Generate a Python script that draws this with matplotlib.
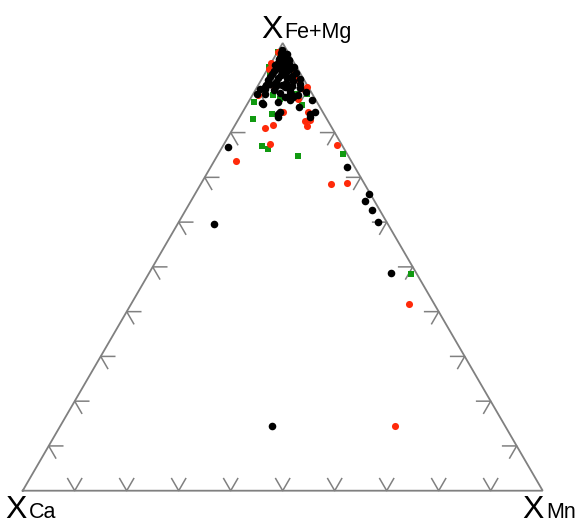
import numpy as np
import matplotlib.pyplot as plt

# ternary compositions (fractions): X Fe+Mg, X Ca, X Mn  (Mn = 1 - FeMg - Ca)
black_femg = [0.985, 0.978, 0.975, 0.970, 0.968, 0.964, 0.962, 0.958, 0.955, 0.953,
              0.950, 0.948, 0.946, 0.943, 0.941, 0.938, 0.936, 0.934, 0.931, 0.929,
              0.927, 0.925, 0.923, 0.921, 0.919, 0.917, 0.915, 0.913, 0.911, 0.909,
              0.907, 0.905, 0.903, 0.901, 0.899, 0.897, 0.895, 0.893, 0.891, 0.889,
              0.886, 0.884, 0.872, 0.868, 0.858,
              0.902, 0.906, 0.883, 0.909, 0.898, 0.887, 0.887, 0.879, 0.879, 0.872,
              0.867, 0.863, 0.846, 0.846, 0.842, 0.842, 0.835, 0.835,
              0.768, 0.722, 0.662, 0.647, 0.627, 0.600, 0.595, 0.487, 0.145]
black_ca = [0.008, 0.014, 0.005, 0.018, 0.010, 0.026, 0.006, 0.020, 0.032, 0.012,
            0.040, 0.024, 0.006, 0.034, 0.015, 0.048, 0.026, 0.008, 0.056, 0.038,
            0.018, 0.062, 0.030, 0.048, 0.008, 0.070, 0.022, 0.056, 0.038, 0.012,
            0.078, 0.030, 0.062, 0.046, 0.018, 0.085, 0.070, 0.040, 0.010, 0.060,
            0.092, 0.028, 0.050, 0.075, 0.040,
            0.083, 0.049, 0.041, 0.070, 0.095, 0.106, 0.0425, 0.056, 0.040, 0.008,
            0.107, 0.106, 0.015, 0.082, 0.088, 0.026, 0.091, 0.030,
            0.221, 0.016, 0.004, 0.018, 0.015, 0.016, 0.335, 0.049, 0.449]
black_mn = [1 - f - c for f, c in zip(black_femg, black_ca)]

red_femg = [0.980, 0.955, 0.943, 0.943, 0.9205, 0.9056, 0.902, 0.898, 0.883, 0.876,
            0.846, 0.846, 0.827, 0.825, 0.816, 0.815, 0.810, 0.775, 0.772, 0.737,
            0.6875, 0.685, 0.418, 0.145]
red_ca = [0.020, 0.045, 0.054, 0.008, 0.016, 0.065, 0.003, 0.011, 0.106, 0.033,
          0.076, 0.028, 0.034, 0.045, 0.111, 0.046, 0.129, 0.136, 0.010, 0.222,
          0.033, 0.065, 0.048, 0.212]
red_mn = [1 - f - c for f, c in zip(red_femg, red_ca)]

green_femg = [0.980, 0.976, 0.965, 0.946, 0.946, 0.932, 0.928, 0.887, 0.887, 0.883,
              0.876, 0.868, 0.861, 0.842, 0.830, 0.770, 0.764, 0.7516, 0.748, 0.484]
green_ca = [0.020, 0.017, 0.010, 0.054, 0.011, 0.010, 0.060, 0.029, 0.010, 0.077,
            0.067, 0.122, 0.033, 0.100, 0.142, 0.155, 0.146, 0.009, 0.096, 0.012]
green_mn = [1 - f - c for f, c in zip(green_femg, green_ca)]

tick_fracs = np.arange(1, 10) / 10


def to_xy(femg, ca, mn):
    femg = np.asarray(femg)
    mn = np.asarray(mn)
    return mn + femg / 2, femg * np.sqrt(3) / 2


H = np.sqrt(3) / 2
fig = plt.figure(figsize=(5.8, 5.24), dpi=100)
ax = fig.add_axes([0, 0, 1, 1])
ax.set_xlim(-22.7 / 520, (580 - 22.7) / 520)
ax.set_ylim(-33.3 / 516.9, (524 - 33.3) / 516.9)
ax.axis("off")

edge = "#808080"
ax.plot([0, 1, 0.5, 0], [0, 0, H, 0], color=edge, lw=1.3, solid_joinstyle="miter", zorder=1)

# tick marks along the other two grid directions
L = 0.027
c60, s60 = 0.5, H
for t in tick_fracs:
    # bottom edge (Ca - Mn)
    x0, y0 = t, 0
    ax.plot([x0 - L * c60, x0, x0 + L * c60], [L * s60, 0, L * s60], color=edge, lw=1.1, zorder=1)
    # left edge
    x0, y0 = to_xy(t, 1 - t, 0)
    ax.plot([x0 + L, x0, x0 + L * c60], [y0, y0, y0 - L * s60], color=edge, lw=1.1, zorder=1)
    # right edge
    x0, y0 = to_xy(t, 0, 1 - t)
    ax.plot([x0 - L, x0, x0 - L * c60], [y0, y0, y0 - L * s60], color=edge, lw=1.1, zorder=1)

gx, gy = to_xy(green_femg, green_ca, green_mn)
ax.scatter(gx, gy, marker="s", s=24, color="#119a11", linewidths=0, zorder=2)
rx, ry = to_xy(red_femg, red_ca, red_mn)
ax.scatter(rx, ry, marker="o", s=26, color="#ff2a0a", linewidths=0, zorder=3)
bx, by = to_xy(black_femg, black_ca, black_mn)
ax.scatter(bx, by, marker="o", s=30, color="black", linewidths=0, zorder=4)

big = dict(family="Liberation Sans", fontsize=23, ha="left", va="baseline")
sub = dict(family="Liberation Sans", fontsize=15.5, ha="left", va="baseline")


def px(xp, yp):
    return (xp - 22.7) / 520, (490.7 - yp) / 516.9


ax.text(*px(261, 38), "X", **big)
ax.text(*px(284, 38), "Fe+Mg", **sub)
ax.text(*px(5, 518.5), "X", **big)
ax.text(*px(29, 518.5), "Ca", **sub)
ax.text(*px(522, 518.5), "X", **big)
ax.text(*px(546, 518.5), "Mn", **sub)

plt.savefig("out.png", dpi=100)
